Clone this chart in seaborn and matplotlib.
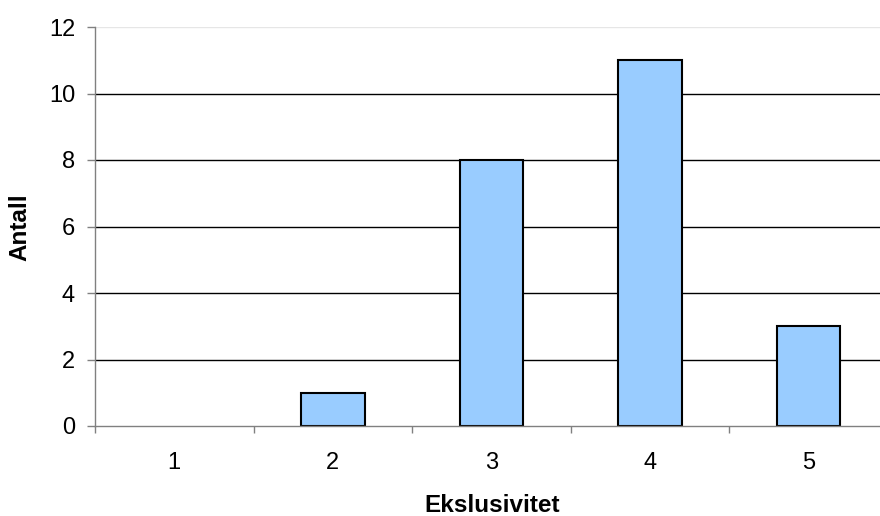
import numpy as np
import matplotlib
matplotlib.use("Agg")
import matplotlib.pyplot as plt
import seaborn as sns
import pandas as pd

categories = ["1", "2", "3", "4", "5"]
counts = [0, 1, 8, 11, 3]
y_ticks = [0, 2, 4, 6, 8, 10, 12]

sns.set_style("white")
plt.rcParams["font.family"] = ["Liberation Sans", "DejaVu Sans"]
plt.rcParams["text.color"] = "black"
plt.rcParams["axes.labelcolor"] = "black"
plt.rcParams["xtick.labelcolor"] = "black"
plt.rcParams["ytick.labelcolor"] = "black"

df = pd.DataFrame({"Ekslusivitet": categories, "Antall": counts})

fig = plt.figure(figsize=(8.8, 5.16), dpi=100)
ax = fig.add_axes([95 / 880, 1 - 426 / 516, (888 - 95) / 880, (426 - 27) / 516])

sns.barplot(data=df, x="Ekslusivitet", y="Antall", color="#99CCFF",
            edgecolor="black", linewidth=1.5, width=0.4, saturation=1,
            ax=ax, zorder=3)
# empty categories get no outline
for patch in ax.patches:
    if patch.get_height() == 0:
        patch.set_linewidth(0)

ax.set_ylim(0, 12)
ax.set_xlim(-0.5, 4.5)
ax.set_yticks(y_ticks)
ax.set_yticklabels([str(v) for v in y_ticks], fontsize=17, color="black")

# horizontal gridlines
for v in y_ticks[1:-1]:
    ax.axhline(v, color="black", linewidth=1, zorder=1)
ax.axhline(12, color="#e6e6e6", linewidth=1, zorder=1)

# ticks at category boundaries, labels at category centres
ax.set_xticks(np.arange(-0.5, 5, 1))
ax.set_xticklabels([])
ax.set_xticks(range(len(categories)), minor=True)
ax.set_xticklabels(categories, minor=True, fontsize=17, color="black")
ax.tick_params(axis="x", which="major", direction="out", length=5,
               color="#808080", width=1, bottom=True)
ax.tick_params(axis="x", which="minor", length=0, pad=19)
ax.tick_params(axis="y", direction="out", length=5.8, color="#808080",
               width=1, left=True, pad=8.6)

for side in ["top", "right"]:
    ax.spines[side].set_visible(False)
for side in ["left", "bottom"]:
    ax.spines[side].set_color("#808080")
    ax.spines[side].set_linewidth(1)
    ax.spines[side].set_zorder(4)

ax.set_xlabel("Ekslusivitet", fontsize=17.5, fontweight="bold", color="black")
ax.set_ylabel("Antall", fontsize=17.5, fontweight="bold", color="black")
ax.xaxis.set_label_coords((492 - 95) / (888 - 95), -(506 - 426) / 399)
ax.xaxis.label.set_va("center")
ax.yaxis.set_label_coords(-(95 - 20) / (888 - 95), (426 - 227) / 399)
ax.yaxis.label.set_va("center")

fig.savefig("out.png", dpi=100)
